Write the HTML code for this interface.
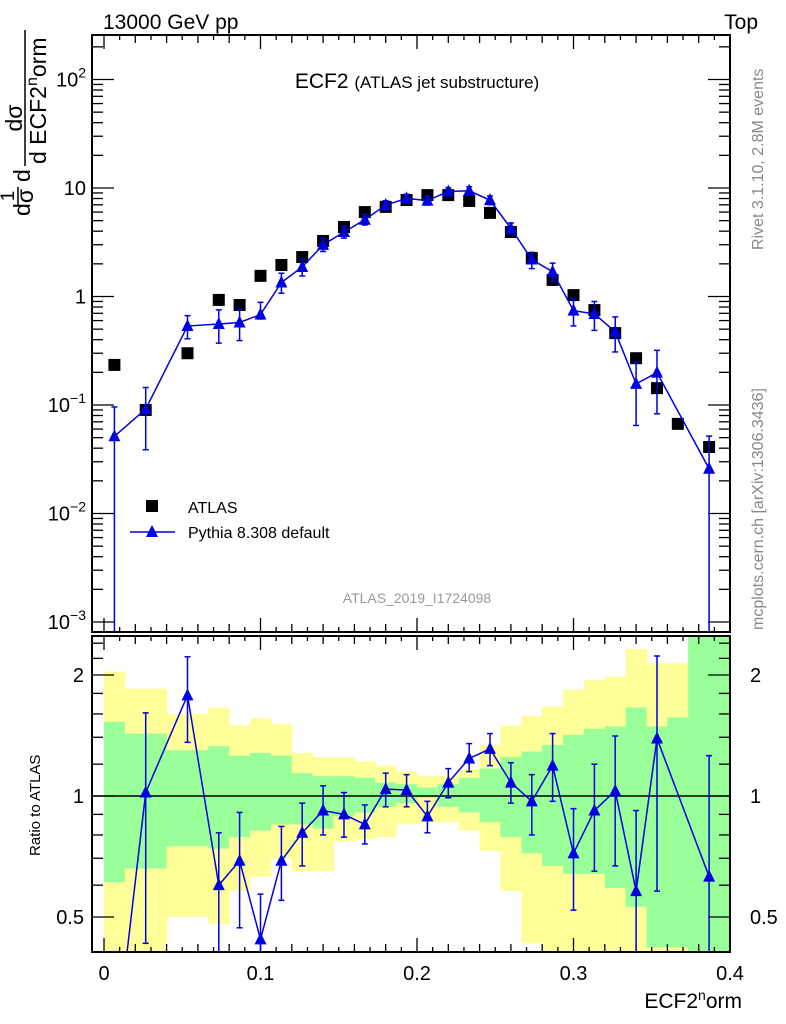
<!DOCTYPE html>
<html><head><meta charset="utf-8">
<style>
html,body{margin:0;background:#fff;overflow:hidden;width:786px;height:1024px;}
svg{display:block;font-family:"Liberation Sans",sans-serif;}
</style></head>
<body>
<svg id="c" width="786" height="1024" viewBox="0 0 786 1024">
<text x="103" y="29" font-size="21">13000 GeV pp</text>
<text x="758" y="29" font-size="21" text-anchor="end">Top</text>
<text x="417" y="88" font-size="21" text-anchor="middle">ECF2 <tspan font-size="17">(ATLAS jet substructure)</tspan></text>
<text x="417" y="603" font-size="14" fill="#999" text-anchor="middle">ATLAS_2019_I1724098</text>
<text transform="translate(763,250) rotate(-90)" font-size="16" fill="#888">Rivet 3.1.10,  2.8M events</text>
<text transform="translate(763,630) rotate(-90)" font-size="16" fill="#888">mcplots.cern.ch [arXiv:1306.3436]</text>
<g transform="rotate(-90)" font-size="23">
<text x="-216" y="30">d</text>
<text x="-196" y="14" font-size="19" text-anchor="middle">1</text>
<line x1="-205" y1="18" x2="-187" y2="18" stroke="#000" stroke-width="1.5"/>
<text x="-196" y="33" text-anchor="middle">σ</text>
<text x="-182" y="30">d</text>
<text x="-118" y="22" text-anchor="middle">dσ</text>
<line x1="-166" y1="25" x2="-30" y2="25" stroke="#000" stroke-width="1.5"/>
<text x="-164" y="46">d ECF2<tspan font-size="16" dy="-9">n</tspan><tspan dy="9">orm</tspan></text>
</g>
<text transform="translate(40,856) rotate(-90)" font-size="15">Ratio to ATLAS</text>
<text x="742" y="1008" font-size="21" text-anchor="end">ECF2<tspan font-size="14" dy="-8">n</tspan><tspan dy="8">orm</tspan></text>
<g id="legend">
<rect x="146" y="500" width="12" height="12" fill="#000"/>
<text x="188" y="513" font-size="16">ATLAS</text>
<line x1="130" y1="532" x2="175" y2="532" stroke="#0000e0" stroke-width="1.5"/>
<polygon points="152,525 146,537 158,537" fill="#0000e0"/>
<text x="188" y="538" font-size="16">Pythia 8.308 default</text>
</g>
</svg>
<script>
const binEdges=[0,0.0133,0.04,0.0667,0.08,0.0933,0.1067,0.12,0.1333,0.1467,0.16,0.1733,0.1867,0.2,0.2133,0.2267,0.24,0.2533,0.2667,0.28,0.2933,0.3067,0.32,0.3333,0.3467,0.36,0.3733,0.4];
const atlasVals=[0.234,0.09,0.30,0.93,0.835,1.55,1.95,2.31,3.25,4.37,6.0,6.7,7.75,8.6,8.6,7.6,5.9,3.93,2.26,1.42,1.03,0.75,0.46,0.27,0.143,0.067,0.041];
const ratioVals=[0.22,1.02,1.78,0.60,0.69,0.44,0.69,0.81,0.92,0.90,0.85,1.04,1.035,0.89,1.08,1.24,1.31,1.08,0.97,1.19,0.72,0.92,1.03,0.58,1.39,null,0.63];
const ratioErrHi=[0.41,1.61,2.22,0.81,0.91,0.57,0.84,0.96,1.06,1.02,0.95,1.14,1.13,0.97,1.17,1.35,1.43,1.21,1.13,1.43,0.93,1.20,1.41,0.92,2.23,null,1.26];
const ratioErrLo=[0.001,0.43,1.36,0.40,0.47,0.40,0.55,0.67,0.80,0.79,0.76,0.94,0.94,0.81,0.99,1.15,1.19,0.96,0.80,0.97,0.52,0.65,0.67,0.24,0.58,null,0.001];
const yellowHi=[2.04,1.85,1.60,1.66,1.50,1.56,1.51,1.28,1.25,1.25,1.22,1.19,1.15,1.12,1.12,1.16,1.34,1.50,1.58,1.67,1.84,1.94,1.98,2.32,2.14,2.14,3];
const greenHi=[1.53,1.43,1.30,1.33,1.26,1.28,1.26,1.14,1.12,1.12,1.11,1.08,1.07,1.05,1.07,1.11,1.17,1.25,1.29,1.34,1.42,1.47,1.49,1.66,1.49,1.57,3];
const greenLo=[0.61,0.66,0.75,0.74,0.79,0.82,0.85,0.85,0.83,0.89,0.91,0.94,0.96,0.99,0.94,0.91,0.86,0.79,0.72,0.67,0.64,0.64,0.59,0.53,0.42,0.42,0.3];
const yellowLo=[0.3,0.3,0.50,0.48,0.58,0.63,0.70,0.65,0.65,0.77,0.78,0.79,0.85,0.86,0.86,0.82,0.73,0.58,0.43,0.3,0.3,0.3,0.3,0.3,0.3,0.3,0.3];
const xTicks=[0,0.1,0.2,0.3,0.4];
const xTickLabels=["0","0.1","0.2","0.3","0.4"];
const ratioTicks=[0.5,1,2];
const ratioTickLabels=["0.5","1","2"];

const NS="http://www.w3.org/2000/svg";
const svg=document.getElementById('c');
const L=92,R=730,MT=35,MB=632,RT=636,RB=952;
const X=v=>104+v*1565;
const Ym=v=>188-(Math.log10(v)-1)*108.5;
const Yr=v=>796-Math.log2(v)*121;
function mk(tag,attrs,parent){const e=document.createElementNS(NS,tag);for(const k in attrs)e.setAttribute(k,attrs[k]);(parent||svg).appendChild(e);return e;}
const clipM=mk('clipPath',{id:'cm'});mk('rect',{x:L,y:MT,width:R-L,height:MB-MT},clipM);
const clipR=mk('clipPath',{id:'cr'});mk('rect',{x:L,y:RT,width:R-L,height:RB-RT},clipR);
const gBand=mk('g',{'clip-path':'url(#cr)'});


const clampR=v=>Math.max(0.3,Math.min(3,v));
for(let i=0;i<binEdges.length-1;i++){
 const x0=X(binEdges[i]),x1=X(binEdges[i+1]);
 const y=mk('rect',{x:x0,y:Yr(clampR(yellowHi[i])),width:x1-x0+0.5,height:Yr(clampR(yellowLo[i]))-Yr(clampR(yellowHi[i])),fill:'#ffff99'},gBand);
 
 
 const g=mk('rect',{x:x0,y:Yr(clampR(greenHi[i])),width:x1-x0+0.5,height:Yr(clampR(greenLo[i]))-Yr(clampR(greenHi[i])),fill:'#99ff99'},gBand);
 
 
}
const one=mk('line',{x1:L,x2:R,y1:Yr(1),y2:Yr(1),stroke:'#000','stroke-width':1.5});


for(const [t,b,n] of [[MT,MB,'main-frame'],[RT,RB,'ratio-frame']]){
 const f=mk('rect',{x:L,y:t,width:R-L,height:b-t,fill:'none',stroke:'#000','stroke-width':2});
 
 
}
for(let k=0;k<=40;k++){
 const v=k/100;
 const len=(k%10==0)?14:((k%2==0)?8:5);
 for(const [t,b] of [[MT,MB],[RT,RB]]){
  mk('line',{x1:X(v),x2:X(v),y1:b,y2:b-len,stroke:'#000','stroke-width':1.3});
  mk('line',{x1:X(v),x2:X(v),y1:t,y2:t+len,stroke:'#000','stroke-width':1.3});
 }
}
xTicks.forEach((v,i)=>{const t=mk('text',{x:X(v),y:980,'font-size':20,'text-anchor':'middle'});t.textContent=xTickLabels[i];
 
 });
for(let d=-3;d<=2;d++){for(let m=1;m<10;m++){const v=m*Math.pow(10,d);const y=Ym(v);if(y<MT||y>MB)continue;const len=m==1?22:11;
 mk('line',{x1:L,x2:L+len,y1:y,y2:y,stroke:'#000','stroke-width':1.3});mk('line',{x1:R,x2:R-len,y1:y,y2:y,stroke:'#000','stroke-width':1.3});}}
const decLab=[[2,'10','2'],[1,'10',''],[0,'1',''],[-1,'10','−1'],[-2,'10','−2'],[-3,'10','−3']];
decLab.forEach(([d,b,s])=>{const t=mk('text',{x:86,y:Ym(Math.pow(10,d))+7,'font-size':20,'text-anchor':'end'});
 t.textContent=b; if(s){const sp=mk('tspan',{dy:-9,'font-size':14},t);sp.textContent=s;}
 
 });
[0.4,0.5,0.6,0.7,0.8,0.9,1,1.2,1.4,1.6,1.8,2,2.2,2.4].forEach(v=>{const y=Yr(v);if(y<RT||y>RB)return;const len=(v==0.5||v==1||v==2)?22:11;
 mk('line',{x1:L,x2:L+len,y1:y,y2:y,stroke:'#000','stroke-width':1.3});mk('line',{x1:R,x2:R-len,y1:y,y2:y,stroke:'#000','stroke-width':1.3});});
ratioTicks.forEach((v,i)=>{for(const [x,a] of [[84,'end'],[750,'start']]){const t=mk('text',{x:x,y:Yr(v)+7,'font-size':20,'text-anchor':a});t.textContent=ratioTickLabels[i];
 
 }});
const blue='#0000e0';
const gM=mk('g',{'clip-path':'url(#cm)'});const gR=mk('g',{'clip-path':'url(#cr)'});
function tri(g,x,y){return mk('polygon',{points:`${x},${y-7} ${x-6},${y+5} ${x+6},${y+5}`,fill:blue},g);}
let pm=[],pr=[];
for(let i=0;i<atlasVals.length;i++){
 const xc=X((binEdges[i]+binEdges[i+1])/2);
 const sq=mk('rect',{x:xc-6,y:Ym(atlasVals[i])-6,width:12,height:12,fill:'#000'},gM);
 
 
 if(ratioVals[i]==null)continue;
 const pv=ratioVals[i]*atlasVals[i],ph=ratioErrHi[i]*atlasVals[i],pl=ratioErrLo[i]*atlasVals[i];
 pm.push(`${xc},${Ym(pv)}`);pr.push(`${xc},${Yr(ratioVals[i])}`);
 for(const [g,Y,v,h,l] of [[gM,Ym,pv,ph,pl],[gR,Yr,ratioVals[i],ratioErrHi[i],ratioErrLo[i]]]){
  const e=mk('line',{x1:xc,x2:xc,y1:Y(h),y2:Y(l),stroke:blue,'stroke-width':1.5},g);
  
  
  mk('line',{x1:xc-3,x2:xc+3,y1:Y(h),y2:Y(h),stroke:blue,'stroke-width':1.5},g);
  mk('line',{x1:xc-3,x2:xc+3,y1:Y(l),y2:Y(l),stroke:blue,'stroke-width':1.5},g);
  const t=tri(g,xc,Y(v));
  
  
 }
}
const lm=mk('polyline',{points:pm.join(' '),fill:'none',stroke:blue,'stroke-width':1.5},gM);


const lr=mk('polyline',{points:pr.join(' '),fill:'none',stroke:blue,'stroke-width':1.5},gR);


svg.appendChild(document.getElementById('legend'));
</script>
</body></html>
